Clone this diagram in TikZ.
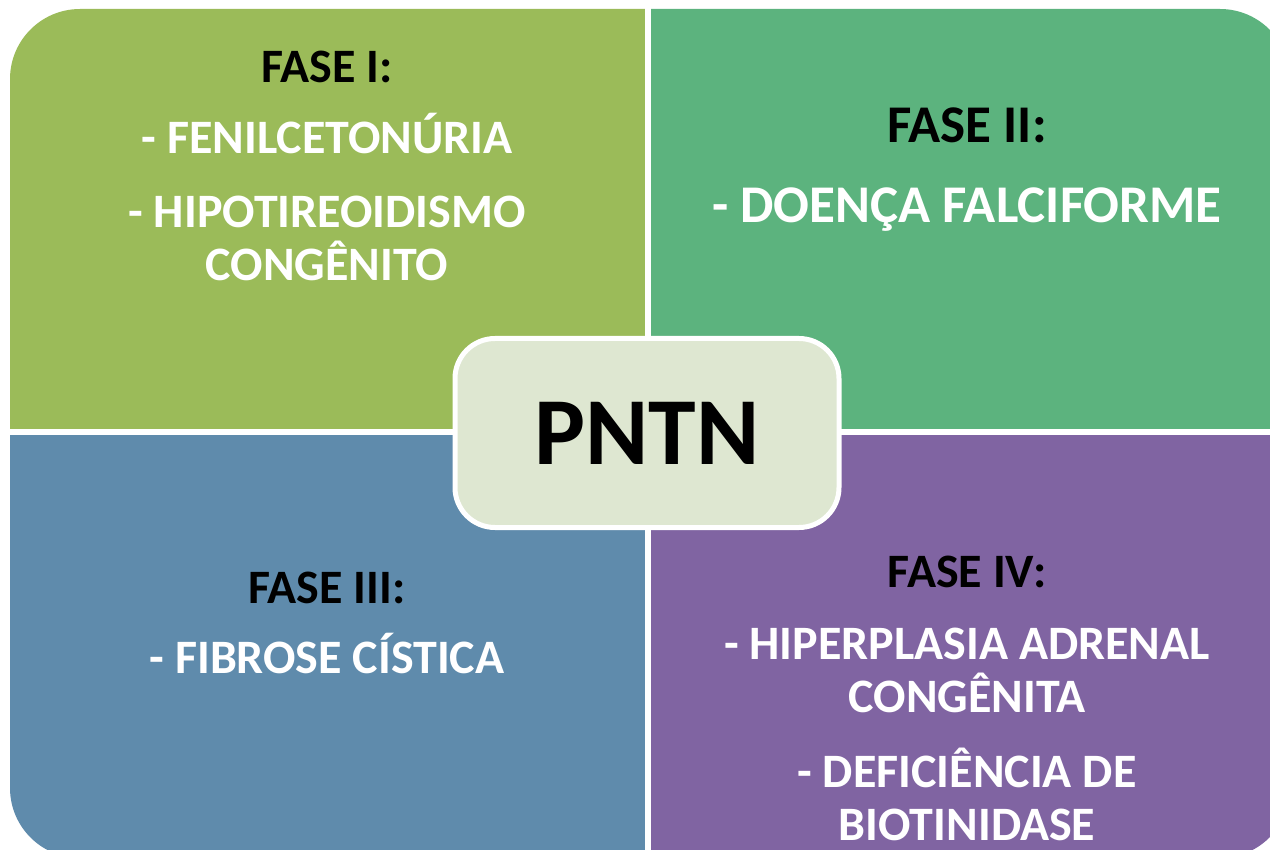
\documentclass[tikz,border=0pt]{standalone}
\usepackage{fontspec}
\setmainfont{Carlito}
\definecolor{faseum}{HTML}{9BBB59}
\definecolor{fasedois}{HTML}{5CB37E}
\definecolor{fasetres}{HTML}{5F8BAC}
\definecolor{fasequatro}{HTML}{8064A2}
\definecolor{centro}{HTML}{DEE7D1}
\tikzset{
 fasetxt/.style={anchor=north,inner sep=0pt,align=center,font=\fontsize{48}{53}\selectfont\bfseries},
 fasegrande/.style={fasetxt,font=\fontsize{53}{61}\selectfont\bfseries},
 pntnbox/.style={draw=white,line width=5pt,fill=centro,rounded corners=40pt,minimum width=384pt,minimum height=189pt,font=\fontsize{96}{110}\selectfont\bfseries}
}
\begin{document}
\begin{tikzpicture}[x=1pt,y=-1pt]
 \useasboundingbox (0,0) rectangle (1270,850);
 \begin{scope}
 \clip[rounded corners=70pt](10,9) rectangle (1290,858);
 \fill[faseum](0,0) rectangle (648,432);
 \fill[fasedois](648,0) rectangle (1300,432);
 \fill[fasetres](0,432) rectangle (648,870);
 \fill[fasequatro](648,432) rectangle (1300,870);
 \end{scope}
 \draw[white,line width=6pt](648,0)--(648,850);
 \draw[white,line width=6pt](0,432)--(1270,432);
 \node[fasetxt] (f1) at (327,51) {FASE I:\\[18pt]\textcolor{white}{- FENILCETONÚRIA}\\[21pt]\textcolor{white}{- HIPOTIREOIDISMO}\\\textcolor{white}{CONGÊNITO}};
 \node[fasegrande] (f2) at (967,108) {FASE II:\\[19pt]\textcolor{white}{- DOENÇA FALCIFORME}};
 \node[fasetxt] (f3) at (327,572) {FASE III:\\[17pt]\textcolor{white}{- FIBROSE CÍSTICA}};
 \node[fasetxt] (f4) at (967,556) {FASE IV:\\[19pt]\textcolor{white}{- HIPERPLASIA ADRENAL}\\\textcolor{white}{CONGÊNITA}\\[22pt]\textcolor{white}{- DEFICIÊNCIA DE}\\\textcolor{white}{BIOTINIDASE}};
 \node[pntnbox] (pntn) at (647,433) {PNTN};
\end{tikzpicture}
\end{document}
